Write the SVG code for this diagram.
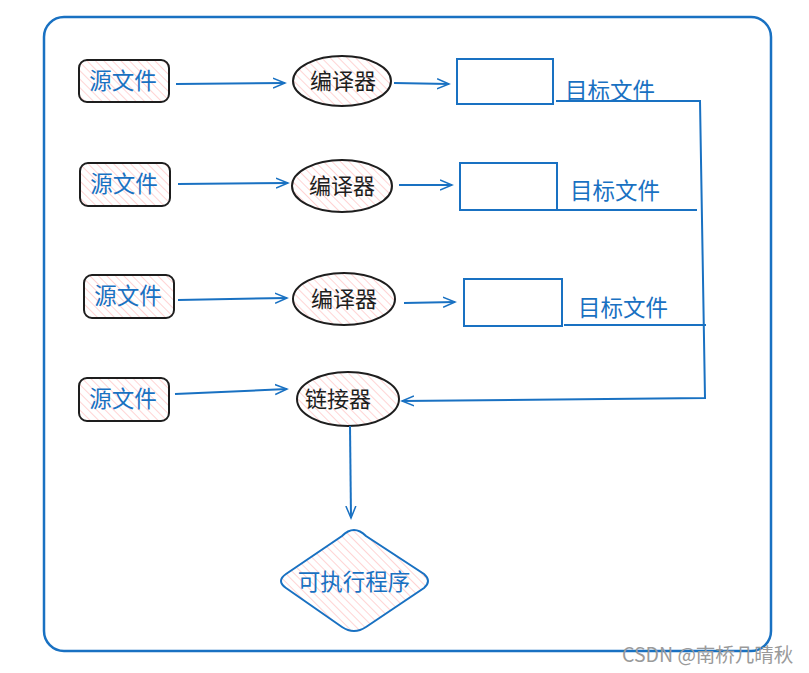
<svg xmlns="http://www.w3.org/2000/svg" width="809" height="673" viewBox="0 0 809 673">
<defs>
<pattern id="hatch" patternUnits="userSpaceOnUse" width="6" height="6" patternTransform="rotate(-45)">
<rect width="6" height="6" fill="#ffffff"/>
<line x1="0" y1="0" x2="0" y2="6" stroke="#ffc9c9" stroke-width="1.6"/>
</pattern>
<marker id="arr" markerWidth="14" markerHeight="12" refX="12" refY="6" orient="auto" markerUnits="userSpaceOnUse">
<path d="M0,1 L12,6 L0,11" fill="none" stroke="#1971c2" stroke-width="1.5"/>
</marker>
</defs>
<style>
.src{fill:url(#hatch);stroke:#1e1e1e;stroke-width:2}
.ell{fill:url(#hatch);stroke:#1e1e1e;stroke-width:2}
.tgt{fill:none;stroke:#1971c2;stroke-width:2}
.blue{font-family:"Noto Sans CJK SC","Noto Sans",sans-serif;font-size:22.5px;fill:#1971c2}
.dark{font-family:"Noto Sans CJK SC","Noto Sans",sans-serif;font-size:22px;fill:#1e1e1e}
.conn{fill:none;stroke:#1971c2;stroke-width:2}
</style>
<rect x="44" y="17" width="727" height="634" rx="20" fill="#ffffff" stroke="#1971c2" stroke-width="2.5"/>

<g id="src1"><rect class="src" x="79" y="60" width="90" height="42" rx="8"/><text class="blue" x="123" y="89" text-anchor="middle">源文件</text></g>
<g id="src2"><rect class="src" x="80" y="163" width="90" height="43" rx="8"/><text class="blue" x="124" y="192" text-anchor="middle">源文件</text></g>
<g id="src3"><rect class="src" x="84" y="275" width="90" height="43" rx="8"/><text class="blue" x="128" y="304" text-anchor="middle">源文件</text></g>
<g id="src4"><rect class="src" x="79" y="378" width="90" height="43" rx="8"/><text class="blue" x="123" y="407" text-anchor="middle">源文件</text></g>

<g id="comp1"><ellipse class="ell" cx="342" cy="81" rx="49" ry="25"/><text class="dark" x="343" y="89" text-anchor="middle">编译器</text></g>
<g id="comp2"><ellipse class="ell" cx="342" cy="186" rx="50" ry="26"/><text class="dark" x="342" y="194" text-anchor="middle">编译器</text></g>
<g id="comp3"><ellipse class="ell" cx="344" cy="299" rx="51" ry="26"/><text class="dark" x="344" y="307" text-anchor="middle">编译器</text></g>
<g id="linker"><ellipse class="ell" cx="348" cy="399" rx="51" ry="27"/><text class="dark" x="338" y="407" text-anchor="middle">链接器</text></g>

<g id="obj1"><rect class="tgt" x="457" y="59" width="96" height="45"/><text class="blue" x="565" y="99">目标文件</text></g>
<g id="obj2"><rect class="tgt" x="460" y="163" width="97" height="47"/><text class="blue" x="570" y="199">目标文件</text></g>
<g id="obj3"><rect class="tgt" x="464" y="279" width="98" height="47"/><text class="blue" x="578" y="316">目标文件</text></g>

<g id="exe"><path d="M354,530 Q360,530 366,536 L424,574 Q432,581 424,588 L366,627 Q354,635 342,627 L286,588 Q276,581 286,574 L342,536 Q348,530 354,530 Z" fill="url(#hatch)" stroke="#1971c2" stroke-width="2"/><text class="blue" x="354" y="590" text-anchor="middle">可执行程序</text></g>

<g id="connectors">
<line class="conn" x1="176" y1="84" x2="285" y2="83" marker-end="url(#arr)"/>
<line class="conn" x1="394" y1="83" x2="449" y2="84" marker-end="url(#arr)"/>
<line class="conn" x1="178" y1="184" x2="288" y2="183" marker-end="url(#arr)"/>
<line class="conn" x1="399" y1="185" x2="452" y2="185" marker-end="url(#arr)"/>
<line class="conn" x1="178" y1="300" x2="287" y2="298" marker-end="url(#arr)"/>
<line class="conn" x1="404" y1="303" x2="455" y2="302" marker-end="url(#arr)"/>
<line class="conn" x1="175" y1="394" x2="287" y2="389" marker-end="url(#arr)"/>
<polyline class="conn" points="556,101 700,101 705,398 402,401" marker-end="url(#arr)"/>
<line class="conn" x1="558" y1="210" x2="697" y2="210"/>
<line class="conn" x1="564" y1="325" x2="706" y2="325"/>
<line class="conn" x1="350" y1="426" x2="351" y2="518" marker-end="url(#arr)"/>
</g>
<text x="622" y="662" font-family="'Noto Sans CJK SC','Liberation Sans',sans-serif" font-size="19.5" fill="#9a9a9a">CSDN @南桥几晴秋</text>
</svg>
